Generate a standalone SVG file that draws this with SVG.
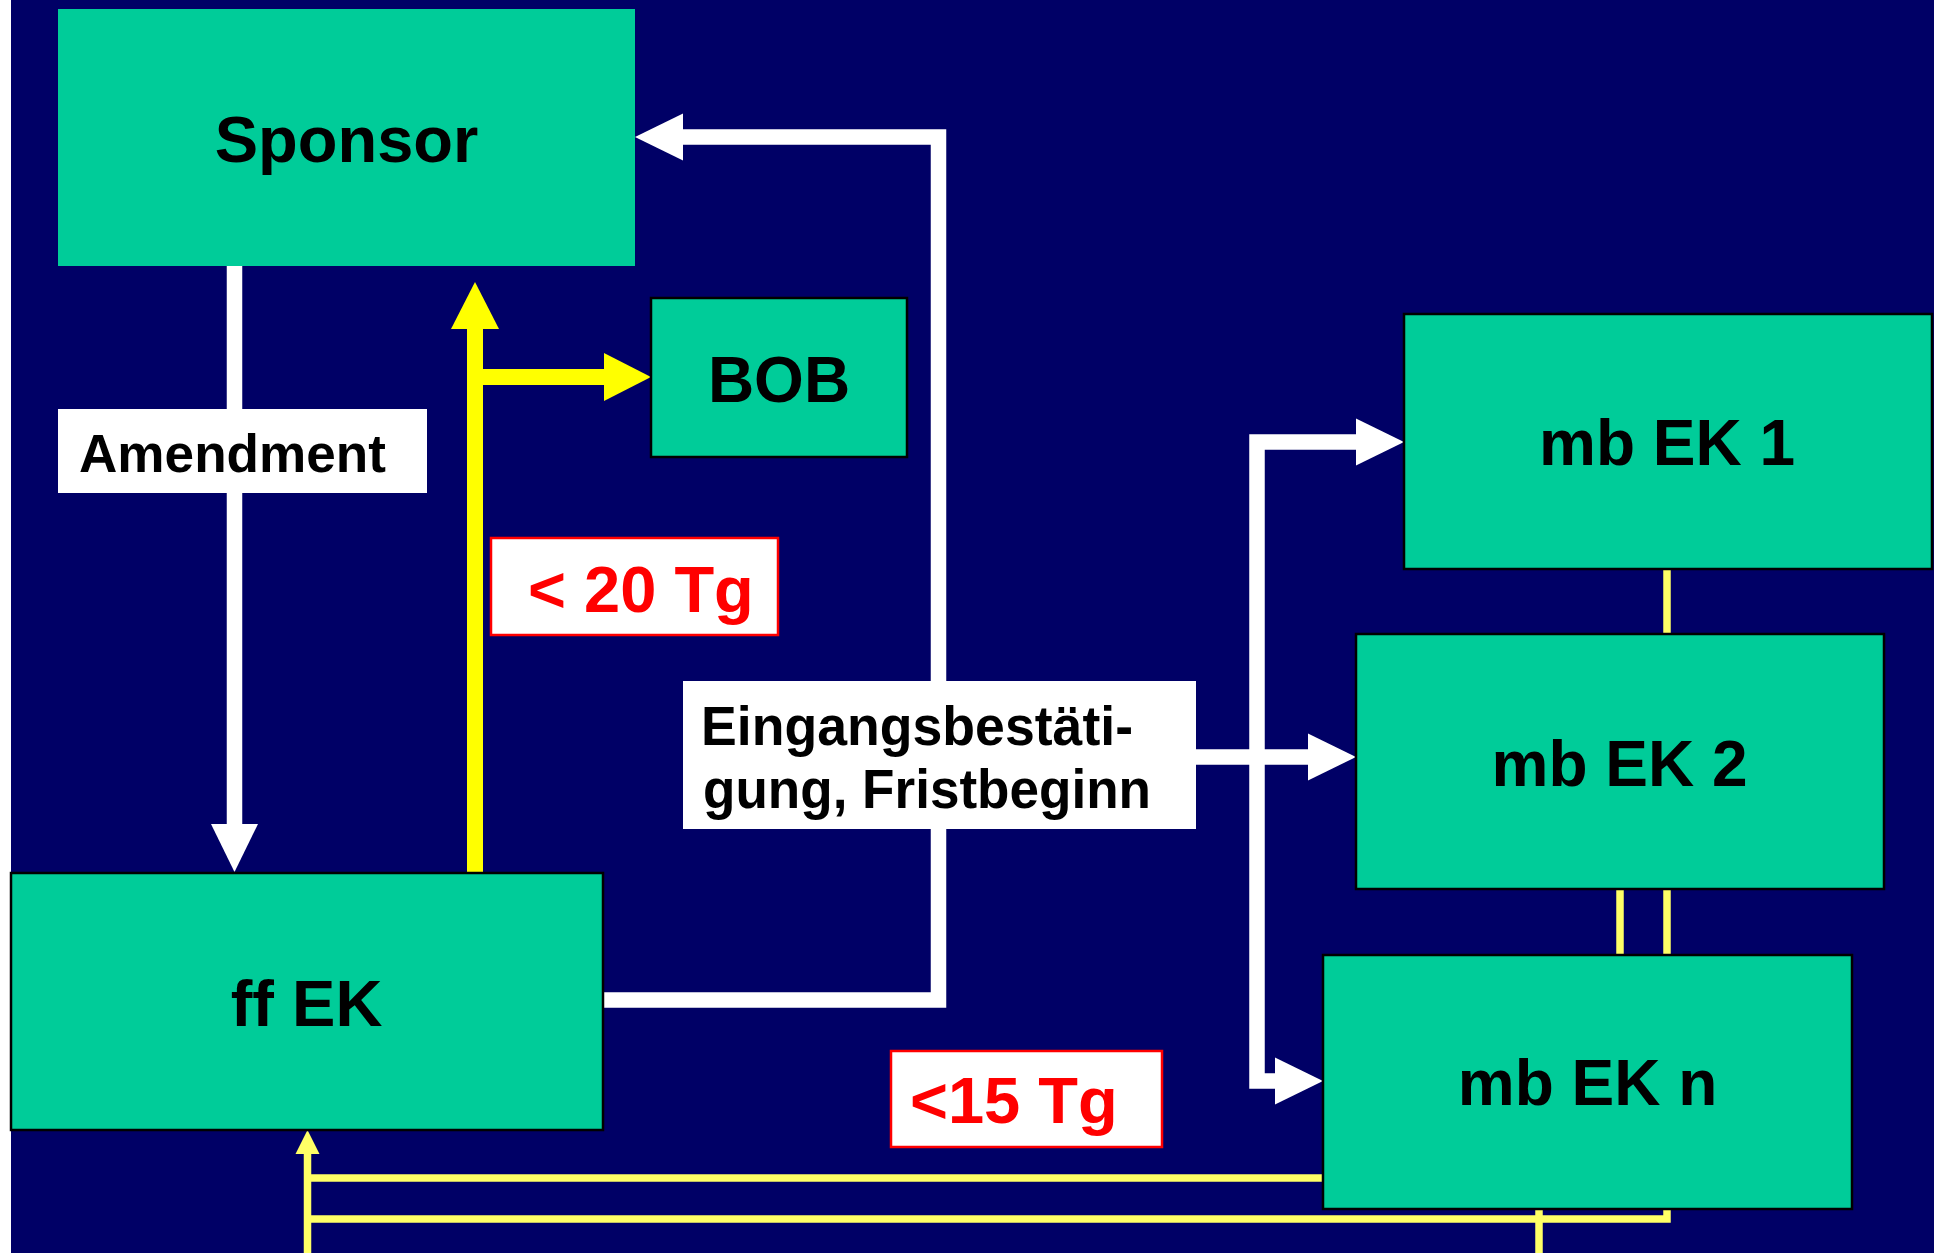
<svg xmlns="http://www.w3.org/2000/svg" width="1934" height="1253" viewBox="0 0 1934 1253">
  <style>
    .node { fill: #00CC99; }
    .bord { stroke: #000000; stroke-width: 2.5; }
    .lbl { font-family: "Liberation Sans", Arial, sans-serif; font-weight: bold; fill: #000000; }
    .red { font-family: "Liberation Sans", Arial, sans-serif; font-weight: bold; fill: #FF0000; }
    .wline { fill: none; stroke: #FFFFFF; stroke-width: 15.5; stroke-linejoin: miter; }
    .yline { fill: none; stroke: #FFFF00; stroke-width: 16; stroke-linejoin: miter; }
    .tline { fill: none; stroke: #FFFF66; stroke-width: 7.5; stroke-linejoin: miter; }
  </style>
  <defs>
    <marker id="wh" markerUnits="userSpaceOnUse" markerWidth="48" markerHeight="47" refX="0" refY="23.5" orient="auto" overflow="visible">
      <path d="M0,0 L48,23.5 L0,47 Z" fill="#FFFFFF"/>
    </marker>
    <marker id="ye" markerUnits="userSpaceOnUse" markerWidth="48" markerHeight="48" refX="0" refY="24" orient="auto" overflow="visible">
      <path d="M0,0 L47,24 L0,48 Z" fill="#FFFF00"/>
    </marker>
    <marker id="yt" markerUnits="userSpaceOnUse" markerWidth="24" markerHeight="24" refX="0" refY="12" orient="auto" overflow="visible">
      <path d="M0,0 L24,12 L0,24 Z" fill="#FFFF66"/>
    </marker>
  </defs>

  <rect x="0" y="0" width="1934" height="1253" fill="#000066"/>
  <rect x="0" y="0" width="11" height="1253" fill="#FFFFFF"/>

  <g id="connectors">
    <path class="wline" d="M234.5,266 V824" marker-end="url(#wh)"/>
    <path class="yline" d="M475,873 V329" marker-end="url(#ye)"/>
    <path class="yline" d="M475,377 H604" marker-end="url(#ye)"/>
    <path class="wline" d="M603,1000 H938.5 V137 H683" marker-end="url(#wh)"/>
    <path class="wline" d="M1196,757 H1308" marker-end="url(#wh)"/>
    <path class="wline" d="M1257,757 V442 H1356" marker-end="url(#wh)"/>
    <path class="wline" d="M1257,750 V1081 H1275" marker-end="url(#wh)"/>
    <path class="tline" d="M1667,569 V634"/>
    <path class="tline" d="M1620,889 V955"/>
    <path class="tline" d="M1667,889 V955"/>
    <path class="tline" d="M1323,1178 H304"/>
    <path class="tline" d="M1667,1209 V1219 H304"/>
    <path class="tline" d="M1539,1209 V1253"/>
    <path class="tline" d="M307.5,1253 V1154" marker-end="url(#yt)"/>
  </g>

  <g id="amendment-label">
    <rect x="58" y="409" width="369" height="84" fill="#FFFFFF"/>
    <text class="lbl" x="79" y="472" font-size="54" textLength="307" lengthAdjust="spacingAndGlyphs">Amendment</text>
  </g>

  <g id="eingang-label">
    <rect x="683" y="681" width="513" height="148" fill="#FFFFFF"/>
    <text class="lbl" x="701" y="745" font-size="55" textLength="432" lengthAdjust="spacingAndGlyphs">Eingangsbestäti-</text>
    <text class="lbl" x="703" y="808" font-size="55" textLength="448" lengthAdjust="spacingAndGlyphs">gung, Fristbeginn</text>
  </g>

  <g id="label-20tg">
    <rect x="491" y="538" width="287" height="97" fill="#FFFFFF" stroke="#FF0000" stroke-width="2.5"/>
    <text class="red" x="528" y="612" font-size="65">&lt; 20 Tg</text>
  </g>

  <g id="label-15tg">
    <rect x="891" y="1051" width="271" height="96" fill="#FFFFFF" stroke="#FF0000" stroke-width="2.5"/>
    <text class="red" x="910" y="1123" font-size="65">&lt;15 Tg</text>
  </g>

  <g id="node-sponsor">
    <rect class="node" x="58" y="9" width="577" height="257"/>
    <text class="lbl" x="346.5" y="162" font-size="65" text-anchor="middle">Sponsor</text>
  </g>

  <g id="node-bob">
    <rect class="node bord" x="651" y="298" width="256" height="159"/>
    <text class="lbl" x="779" y="402" font-size="64" text-anchor="middle">BOB</text>
  </g>

  <g id="node-ffek">
    <rect class="node bord" x="11" y="873" width="592" height="257"/>
    <text class="lbl" x="306.5" y="1026" font-size="65" text-anchor="middle">ff EK</text>
  </g>

  <g id="node-mbek1">
    <rect class="node bord" x="1404" y="314" width="528" height="255"/>
    <text class="lbl" x="1667" y="465" font-size="64" text-anchor="middle">mb EK 1</text>
  </g>

  <g id="node-mbek2">
    <rect class="node bord" x="1356" y="634" width="528" height="255"/>
    <text class="lbl" x="1619.5" y="786" font-size="64" text-anchor="middle">mb EK 2</text>
  </g>

  <g id="node-mbekn">
    <rect class="node bord" x="1323" y="955" width="529" height="254"/>
    <text class="lbl" x="1587.5" y="1105" font-size="64" text-anchor="middle">mb EK n</text>
  </g>
</svg>
